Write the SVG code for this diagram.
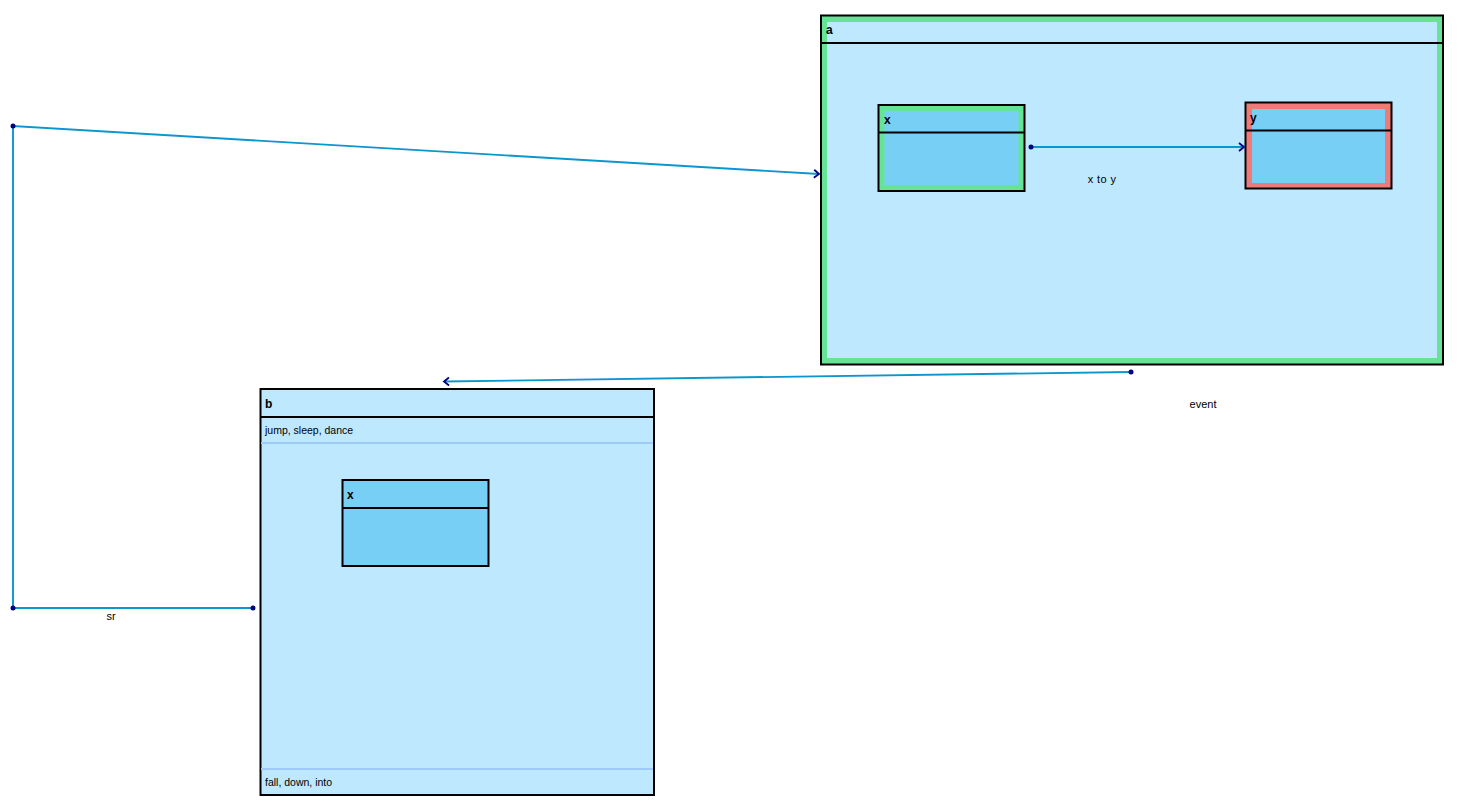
<svg xmlns="http://www.w3.org/2000/svg" width="1459" height="810" viewBox="0 0 1459 810">
<style>
.outer{fill:#bee8fe;stroke:#000;stroke-width:2}
.inner{fill:#78cff5}
.hdr{stroke:#000;stroke-width:2}
.sep{stroke:#9fc9f8;stroke-width:2}
.title{font-family:"Liberation Sans",Arial,sans-serif;font-size:12px;font-weight:bold;fill:#000}
.txt{font-family:"Liberation Sans",Arial,sans-serif;font-size:11px;fill:#000}
.conn{fill:none;stroke:#0b96ce;stroke-width:1.9}
.dot{fill:#000080}
</style>
<defs>
<marker id="arr" markerWidth="10" markerHeight="10" refX="7" refY="5" orient="auto" markerUnits="userSpaceOnUse">
<path d="M2,1 L7,5 L2,9" fill="none" stroke="#000080" stroke-width="1.8"/>
</marker>
</defs>
<rect width="1459" height="810" fill="#fff"/>
<g id="state-a">
<rect x="821" y="15.5" width="622" height="349" fill="#66e496" stroke="#000" stroke-width="2"/>
<rect x="827" y="22" width="610" height="336" fill="#bee8fe"/>
<line x1="821" y1="43" x2="1443" y2="43" class="hdr"/>
<text x="826" y="34" class="title">a</text>
</g>
<g id="state-a-x">
<rect x="878.5" y="105" width="146" height="86" fill="#66e496" stroke="#000" stroke-width="2"/>
<rect x="884.5" y="111" width="134" height="74" class="inner"/>
<line x1="879" y1="132.5" x2="1024" y2="132.5" class="hdr"/>
<text x="884" y="124" class="title">x</text>
</g>
<g id="state-a-y">
<rect x="1245.5" y="102.5" width="146" height="86" fill="#f07a7a" stroke="#000" stroke-width="2"/>
<rect x="1252" y="109" width="133" height="74" class="inner"/>
<line x1="1246" y1="130.5" x2="1391" y2="130.5" class="hdr"/>
<text x="1250" y="122" class="title">y</text>
</g>
<g id="state-b">
<rect x="260.5" y="389" width="393.5" height="406" class="outer"/>
<line x1="261" y1="417" x2="654" y2="417" class="hdr"/>
<line x1="261" y1="443" x2="653" y2="443" class="sep"/>
<line x1="261" y1="769" x2="653" y2="769" class="sep"/>
<text x="265" y="408" class="title">b</text>
<text x="265" y="434" class="txt" style="font-size:10.5px">jump, sleep, dance</text>
<text x="265" y="786" class="txt" style="font-size:10.5px">fall, down, into</text>
</g>
<g id="state-b-x">
<rect x="342.5" y="480" width="146" height="86" class="inner" stroke="#000" stroke-width="2"/>
<line x1="343" y1="508" x2="488" y2="508" class="hdr"/>
<text x="347" y="499" class="title">x</text>
</g>
<g id="connectors">
<path d="M1031,147 L1244,147" class="conn" marker-end="url(#arr)"/>
<circle cx="1031" cy="147" r="2.5" class="dot"/>
<text x="1102" y="183" class="txt" text-anchor="middle" letter-spacing="0.4">x to y</text>
<path d="M253,608 L13,608 L13,126 L819,174" class="conn" marker-end="url(#arr)"/>
<circle cx="253" cy="608" r="2.5" class="dot"/>
<circle cx="13" cy="608" r="2.5" class="dot"/>
<circle cx="13" cy="126" r="2.5" class="dot"/>
<text x="111" y="620" class="txt" text-anchor="middle">sr</text>
<path d="M1131,372 L444,381.5" class="conn" marker-end="url(#arr)"/>
<circle cx="1131" cy="372" r="2.5" class="dot"/>
<text x="1203" y="408" class="txt" text-anchor="middle">event</text>
</g>
</svg>
